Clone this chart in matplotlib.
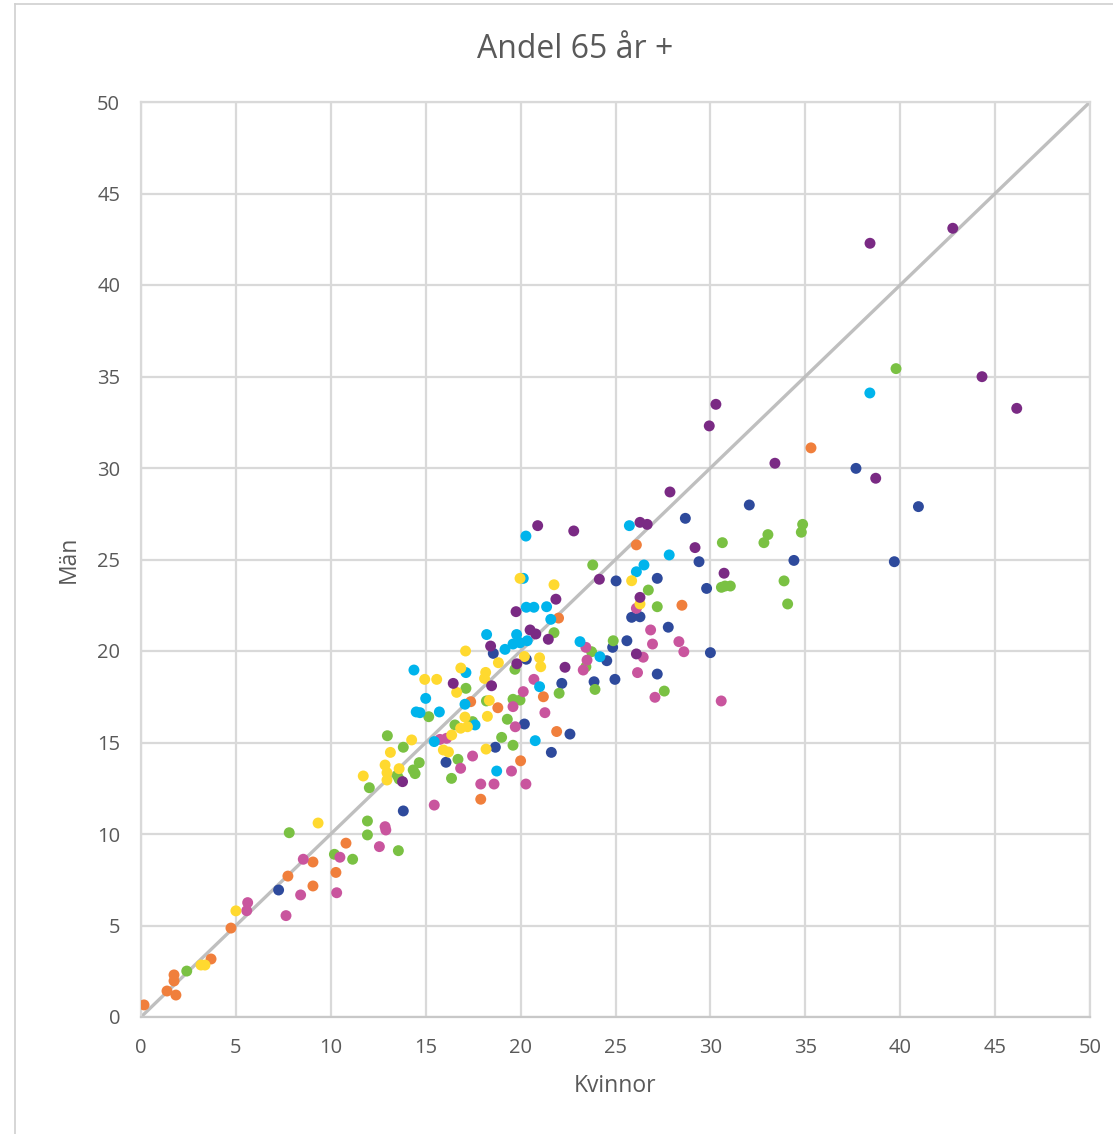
import matplotlib.pyplot as plt
from matplotlib.lines import Line2D

plt.rcParams['font.family'] = ['Open Sans', 'DejaVu Sans']

# data per series (Kvinnor, Män)
orange_x = [0.16, 1.37, 1.74, 1.74, 1.84, 3.69, 4.74, 7.74, 9.06, 9.06, 10.27, 10.8,
            17.37, 18.8, 17.9, 20.0, 21.9, 21.2, 22.0, 26.1, 28.5, 35.3]
orange_y = [0.66, 1.42, 2.3, 1.97, 1.2, 3.17, 4.86, 7.7, 8.47, 7.16, 7.9, 9.5,
            17.23, 16.9, 11.9, 14.0, 15.6, 17.5, 21.8, 25.8, 22.5, 31.1]

yellow_x = [3.16, 3.37, 5.0, 9.33, 11.71, 12.86, 12.96, 12.96, 13.14, 13.6, 14.26, 14.95,
            15.58, 15.93, 16.2, 16.37, 16.84, 16.63, 16.85, 17.07, 17.2, 17.1, 18.1, 18.16,
            18.35, 18.25, 18.18, 18.83, 19.97, 20.2, 21.0, 21.06, 21.76, 25.85, 26.29]
yellow_y = [2.84, 2.84, 5.8, 10.6, 13.17, 13.77, 13.35, 12.95, 14.46, 13.57, 15.14, 18.45,
            18.45, 14.59, 14.48, 15.41, 15.78, 17.74, 19.07, 16.39, 15.86, 20.0, 18.5, 18.83,
            17.3, 16.43, 14.64, 19.36, 23.97, 19.7, 19.63, 19.14, 23.62, 23.84, 22.57]

cyan_x = [14.38, 14.5, 14.7, 15.0, 15.45, 15.72, 17.07, 17.12, 17.6, 18.21, 18.74, 19.18,
          19.6, 19.79, 19.97, 20.35, 20.14, 20.28, 20.3, 20.7, 20.77, 21.0, 21.37, 21.59,
          23.13, 24.18, 25.73, 26.1, 26.5, 27.83, 38.4]
cyan_y = [18.96, 16.67, 16.63, 17.41, 15.05, 16.67, 17.09, 18.82, 15.96, 20.9, 13.44, 20.09,
          20.38, 20.9, 20.45, 20.56, 23.97, 26.28, 22.39, 22.39, 15.1, 18.05, 22.42, 21.73,
          20.51, 19.69, 26.85, 24.33, 24.7, 25.25, 34.1]

blue_x = [7.25, 13.82, 16.07, 18.56, 18.67, 20.2, 20.3, 21.62, 22.17, 22.6, 23.87, 24.54,
          24.85, 24.97, 25.03, 25.6, 25.85, 26.29, 27.2, 27.2, 27.78, 28.68, 29.4, 29.8,
          30.0, 32.05, 34.4, 37.67, 39.69, 40.96]
blue_y = [6.94, 11.26, 13.92, 19.87, 14.74, 16.01, 19.55, 14.46, 18.23, 15.46, 18.32, 19.47,
          20.2, 18.45, 23.83, 20.56, 21.84, 21.87, 23.97, 18.74, 21.3, 27.25, 24.88, 23.42,
          19.91, 27.98, 24.95, 29.98, 24.88, 27.89]

green_x = [2.41, 7.81, 10.19, 11.15, 11.93, 11.93, 12.03, 12.98, 13.56, 13.5, 13.6, 13.82,
           14.34, 14.44, 14.66, 15.16, 16.36, 16.54, 16.7, 17.12, 17.47, 18.2, 19.0, 19.3,
           19.6, 19.6, 19.7, 19.97, 21.76, 22.03, 23.44, 23.74, 23.8, 23.92, 24.88, 26.73,
           27.2, 27.57, 30.58, 30.77, 31.05, 30.63, 32.82, 33.03, 33.88, 34.07, 34.79, 34.86,
           39.78]
green_y = [2.51, 10.07, 8.89, 8.62, 10.71, 9.95, 12.53, 15.37, 9.09, 13.2, 13.0, 14.74,
           13.5, 13.3, 13.9, 16.41, 13.04, 15.96, 14.08, 17.96, 16.14, 17.27, 15.28, 16.27,
           17.36, 14.85, 19.0, 17.32, 21.0, 17.69, 19.14, 19.96, 24.7, 17.9, 20.56, 23.33,
           22.42, 17.81, 23.48, 23.55, 23.55, 25.92, 25.92, 26.36, 23.83, 22.57, 26.49, 26.92,
           35.43]

pink_x = [5.57, 5.62, 7.64, 8.41, 8.55, 10.31, 10.48, 12.56, 12.86, 12.9, 15.45, 15.75,
          16.1, 16.84, 17.47, 17.9, 18.6, 19.52, 19.6, 19.72, 20.14, 20.28, 20.7, 21.28,
          23.3, 23.44, 23.5, 26.1, 26.16, 26.46, 26.85, 26.95, 27.08, 28.34, 28.6, 30.57]
pink_y = [5.81, 6.25, 5.54, 6.67, 8.62, 6.79, 8.73, 9.31, 10.4, 10.22, 11.58, 15.17,
          15.23, 13.59, 14.26, 12.73, 12.73, 13.44, 16.96, 15.86, 17.78, 12.73, 18.45, 16.63,
          18.96, 20.2, 19.5, 22.33, 18.82, 19.66, 21.15, 20.38, 17.47, 20.51, 19.96, 17.27]

purple_x = [13.78, 16.45, 18.42, 18.47, 19.76, 19.8, 20.5, 20.8, 20.9, 21.46, 21.86, 22.34,
            22.8, 24.15, 26.1, 26.29, 26.29, 26.67, 27.87, 29.19, 29.94, 30.29, 30.72, 33.4,
            38.41, 38.71, 42.77, 44.31, 46.14]
purple_y = [12.86, 18.23, 20.27, 18.1, 22.15, 19.3, 21.15, 20.93, 26.85, 20.64, 22.83, 19.11,
            26.56, 23.92, 19.84, 22.93, 27.03, 26.92, 28.69, 25.65, 32.3, 33.48, 24.25, 30.26,
            42.28, 29.44, 43.1, 34.99, 33.26]

series = [
    (orange_x, orange_y, '#F07F3C'),
    (blue_x, blue_y, '#2E4A9C'),
    (green_x, green_y, '#7AC143'),
    (pink_x, pink_y, '#C9559E'),
    (cyan_x, cyan_y, '#00B4EC'),
    (yellow_x, yellow_y, '#FFD92F'),
    (purple_x, purple_y, '#7A2A84'),
]

ticks = list(range(0, 51, 5))
grid_col = '#D9D9D9'
text_col = '#595959'

fig = plt.figure(figsize=(11.13, 11.34), dpi=100)
ax = fig.add_axes([141 / 1113, 1 - 1017 / 1134, (1090 - 141) / 1113, (1017 - 102) / 1134])

ax.plot([0, 50], [0, 50], color='#BFBFBF', lw=2.4, zorder=2)
for xs, ys, col in series:
    ax.scatter(xs, ys, s=62, color=col, edgecolors='none', zorder=3)

ax.set_xlim(0, 50)
ax.set_ylim(0, 50)
ax.set_xticks(ticks)
ax.set_yticks(ticks)
ax.grid(True, color=grid_col, lw=1.6, zorder=0)
ax.set_axisbelow(True)
for sp in ax.spines.values():
    sp.set_color(grid_col)
    sp.set_linewidth(1.6)
ax.spines['bottom'].set_color('#C8C8C8')
ax.tick_params(length=0, labelsize=14.5, labelcolor=text_col, pad=15)

ax.set_xlabel('Kvinnor', fontsize=16.5, color=text_col, labelpad=12)
ax.set_ylabel('Män', fontsize=16.5, color=text_col, labelpad=12)
fig.text(0.517, 1 - 49 / 1134, 'Andel 65 år +', ha='center', va='center',
         fontsize=23, color=text_col)

# outer chart frame
fig.add_artist(Line2D([15 / 1113, 15 / 1113], [0, 1 - 4 / 1134], color='#D0D0D0', lw=1.2))
fig.add_artist(Line2D([15 / 1113, 1], [1 - 4 / 1134, 1 - 4 / 1134], color='#D0D0D0', lw=1.2))

fig.savefig('out.png', dpi=100)
